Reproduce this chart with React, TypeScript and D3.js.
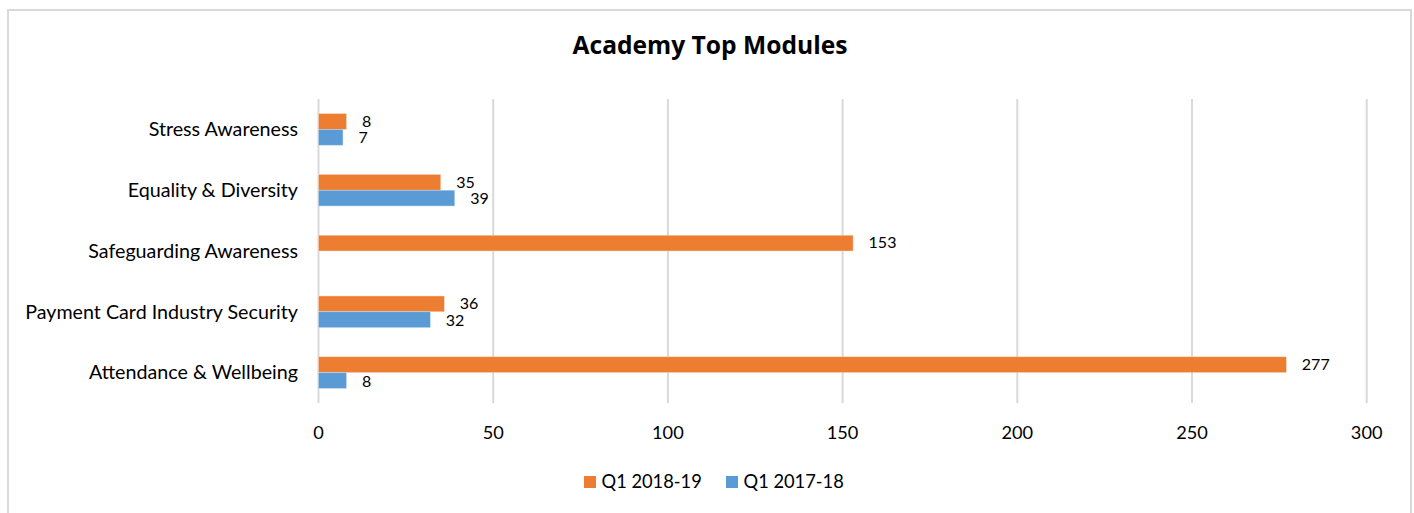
import React from "react";
import * as d3 from "d3";

const categories = [
  "Stress Awareness",
  "Equality & Diversity",
  "Safeguarding Awareness",
  "Payment Card Industry Security",
  "Attendance & Wellbeing",
];
const series2018 = [8, 35, 153, 36, 277];
const series2017 = [7, 39, 0, 32, 8];
const seriesNames = ["Q1 2018-19", "Q1 2017-18"];
const xTicks = [0, 50, 100, 150, 200, 250, 300];

const ORANGE = "#ED7D31";
const BLUE = "#5B9BD5";
const GRID = "#D9D9D9";
const FONT = "Lato, 'Open Sans', sans-serif";

export default function App() {
  const W = 1414;
  const H = 513;
  const x = d3.scaleLinear().domain([0, 300]).range([318.5, 1366.7]);
  const y = d3.scaleBand<string>().domain(categories).range([99, 403]).padding(0);
  const barH = 15.8;
  const bw = y.bandwidth();

  return (
    <svg
      width={W}
      height={H}
      style={{ position: "absolute", left: 0, top: 0, fontFamily: FONT }}
    >
      <rect x={0} y={0} width={W} height={H} fill="#fff" />
      <rect x={8} y={10} width={1403} height={H + 10} fill="#fff" stroke={GRID} strokeWidth={2} />
      <text x={710} y={54} textAnchor="middle" fontSize={24.6} fontWeight="bold" fill="#000" style={{ fontFamily: "'Open Sans', sans-serif" }}>
        Academy Top Modules
      </text>
      {xTicks.map((t) => (
        <g key={t}>
          <line x1={x(t)} x2={x(t)} y1={99} y2={403} stroke={GRID} strokeWidth={2} />
          <text x={x(t)} y={439} textAnchor="middle" fontSize={18.2} fill="#000">
            {t}
          </text>
        </g>
      ))}
      {categories.map((c, i) => {
        const cy = (y(c) as number) + bw / 2;
        const v1 = series2018[i];
        const v2 = series2017[i];
        return (
          <g key={c}>
            <text x={298} y={cy} dy="0.35em" textAnchor="end" fontSize={19.7} fill="#000">
              {c}
            </text>
            <rect x={x(0)} y={cy - barH} width={x(v1) - x(0)} height={barH} fill={ORANGE} stroke="#fbd9c2" strokeWidth={0.5} />
            {v2 > 0 && (
              <rect x={x(0)} y={cy} width={x(v2) - x(0)} height={barH} fill={BLUE} stroke="#c5dcf0" strokeWidth={0.5} />
            )}
            <text x={x(v1) + 15.5} y={cy - barH / 2} dy="0.33em" fontSize={16} fill="#000">
              {v1}
            </text>
            {v2 > 0 && (
              <text x={x(v2) + 15.5} y={cy + barH / 2} dy="0.38em" fontSize={16} fill="#000">
                {v2}
              </text>
            )}
          </g>
        );
      })}
      <g>
        <rect x={584} y={476} width={12} height={12} fill={ORANGE} />
        <text x={601.5} y={482} dy="0.35em" fontSize={18.3} fill="#000">
          {seriesNames[0]}
        </text>
        <rect x={726} y={476} width={12} height={12} fill={BLUE} />
        <text x={743.5} y={482} dy="0.35em" fontSize={18.3} fill="#000">
          {seriesNames[1]}
        </text>
      </g>
    </svg>
  );
}
